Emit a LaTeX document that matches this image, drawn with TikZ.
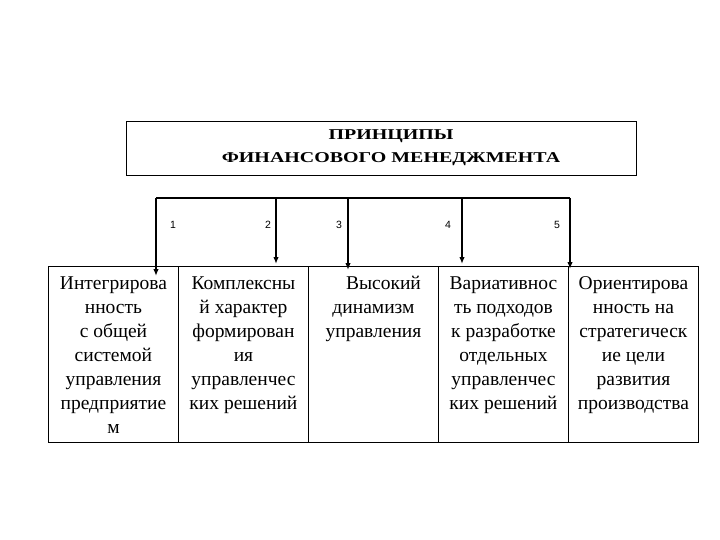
\documentclass[tikz,border=0pt]{standalone}
\usepackage{fontspec}
\setmainfont{Liberation Serif}
\setsansfont{Liberation Sans}
\newfontfamily\titlefont[FakeStretch=1.33]{Liberation Serif}
\usetikzlibrary{positioning,arrows.meta}

\newcommand{\coltxt}[1]{\parbox[t]{130pt}{\centering #1}}

\tikzset{
  titlebox/.style={draw, line width=0.9pt, minimum width=510pt, minimum height=54pt, inner sep=0pt},
  colbox/.style={draw, line width=0.9pt, anchor=north west, minimum width=130pt, minimum height=176pt, inner sep=0pt},
  coltext/.style={anchor=base, inner sep=0pt, font=\fontsize{19.5}{24}\selectfont},
  num/.style={font=\sffamily\fontsize{10.5}{12}\selectfont},
  arr/.style={-{Latex[length=7pt,width=5.5pt]}, line width=1.5pt}
}

\begin{document}
\begin{tikzpicture}[x=1pt,y=-1pt]
\useasboundingbox (0,0) rectangle (720,540);

% title
\node[titlebox] (title) at (381,148) {};
\node[align=center, font=\titlefont\bfseries\fontsize{15}{23}\selectfont] (titletext) at ([xshift=10pt]title.center) {ПРИНЦИПЫ\\ФИНАНСОВОГО МЕНЕДЖМЕНТА};

% columns
\node[colbox] (c1) at (48,266) {};
\node[colbox] (c2) at (178,266) {};
\node[colbox] (c3) at (308,266) {};
\node[colbox] (c4) at (438,266) {};
\node[colbox] (c5) at (568,266) {};

\node[coltext] (t1) at ([yshift=-23pt]c1.north) {\coltxt{Интегрирова\\нность\\с общей\\системой\\управления\\предприятие\\м}};
\node[coltext] (t2) at ([yshift=-23pt]c2.north) {\coltxt{Комплексны\\й характер\\формирован\\ия\\управленчес\\ких решений}};
\node[coltext] (t3) at ([yshift=-23pt]c3.north) {\coltxt{\hspace*{20pt}Высокий\\динамизм\\управления}};
\node[coltext] (t4) at ([yshift=-23pt]c4.north) {\coltxt{Вариативнос\\ть подходов\\к разработке\\отдельных\\управленчес\\ких решений}};
\node[coltext] (t5) at ([yshift=-23pt]c5.north) {\coltxt{Ориентирова\\нность на\\стратегическ\\ие цели\\развития\\производства}};

% bracket and arrows
\coordinate (h1) at (156,198);
\coordinate (h2) at (276,198);
\coordinate (h3) at (348,198);
\coordinate (h4) at (462,198);
\coordinate (h5) at (570,198);
\draw[line width=1.5pt] (h1) -- (h5);
\draw[arr] (h1) -- ([yshift=-10pt]h1 |- c1.north);
\draw[arr] (h2) -- ([yshift=2pt]h2 |- c2.north);
\draw[arr] (h3) -- ([yshift=-4pt]h3 |- c3.north);
\draw[arr] (h4) -- ([yshift=2pt]h4 |- c4.north);
\draw[arr] (h5) -- ([yshift=-3pt]h5 |- c4.north);

\node[num] (n1) at (173,225) {1};
\node[num] (n2) at (268,225) {2};
\node[num] (n3) at (339,225) {3};
\node[num] (n4) at (448,225) {4};
\node[num] (n5) at (557,225) {5};
\end{tikzpicture}
\end{document}
